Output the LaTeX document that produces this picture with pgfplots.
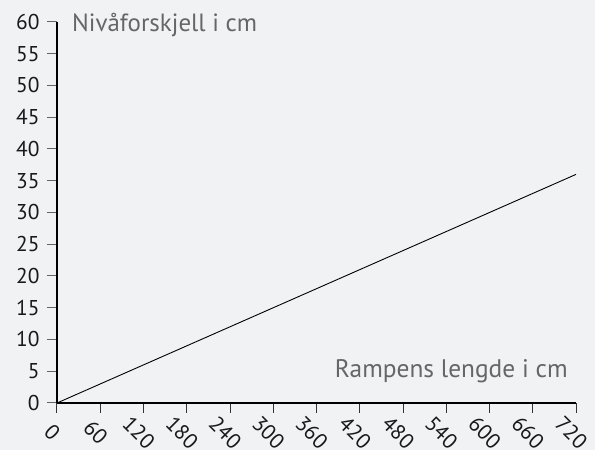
\documentclass[border=0pt]{standalone}
\usepackage{pgfplots}
\pgfplotsset{compat=1.18}
\usepackage{fontspec}
\setmainfont{PT Sans}
\definecolor{bg}{HTML}{F1F2F4}
\definecolor{lab}{HTML}{666666}
\begin{document}
\begin{tikzpicture}[x=1bp,y=1bp]
\fill[bg] (-57,-47) rectangle (538,403);
\useasboundingbox (-57,-47) rectangle (538,403);
\begin{axis}[
  scale only axis,
  width=519bp, height=381bp,
  xmin=0, xmax=720, ymin=0, ymax=60,
  axis x line=bottom, axis y line=left,
  axis line style={line width=2.2bp, black, -},
  xtick={0,60,...,720}, ytick={0,5,...,60},
  tick align=outside,
  major tick length=10bp,
  x tick style={black!80, line width=1bp},
  y tick style={lab, line width=1bp},
  /pgf/number format/assume math mode=true,
  ticklabel style={font=\fontsize{21.5}{21.5}\selectfont, text=black!90},
  yticklabel style={xshift=-4bp},
  xticklabel style={xshift=1bp, yshift=-14bp, rotate=-45, anchor=north, inner sep=0pt},
  clip=false,
]
\addplot[black, line width=0.9bp] coordinates {(0,0) (720,36)};
\node[anchor=north west, text=lab, font=\fontsize{25}{25}\selectfont, inner sep=0pt] at (axis cs:0,60) [xshift=15bp, yshift=9bp] {Nivåforskjell i cm};
\node[anchor=base east, text=lab, font=\fontsize{25.5}{25.5}\selectfont, inner sep=0pt] at (axis cs:720,0) [xshift=-8bp, yshift=25bp] {Rampens lengde i cm};
\end{axis}
\end{tikzpicture}
\end{document}
